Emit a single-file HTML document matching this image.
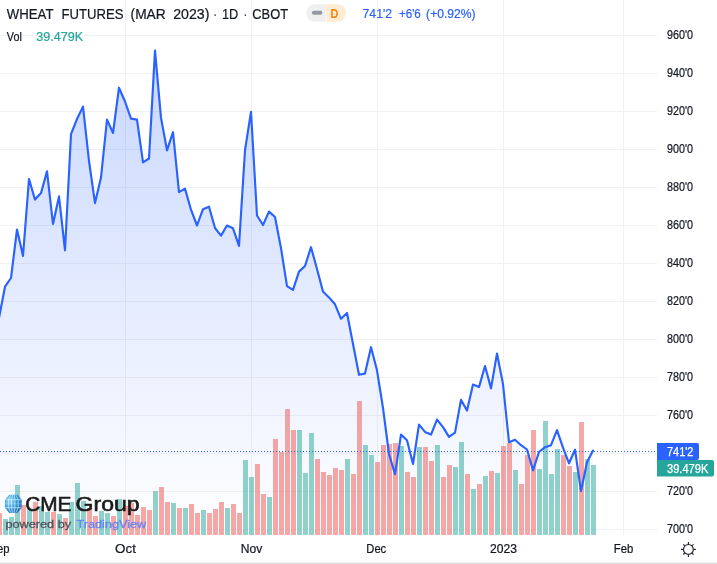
<!DOCTYPE html>
<html lang="en"><head><meta charset="utf-8"><title>WHEAT FUTURES (MAR 2023) - CBOT</title>
<style>html,body{margin:0;padding:0;background:#fff;}body{width:717px;height:564px;overflow:hidden;position:relative;font-family:"Liberation Sans",sans-serif;}svg{position:absolute;left:0;top:0;display:block}text{font-family:"Liberation Sans",sans-serif;}</style>
</head><body>
<svg width="717" height="564" viewBox="0 0 717 564">
<defs><linearGradient id="ag" x1="0" y1="0" x2="0" y2="535" gradientUnits="userSpaceOnUse"><stop offset="0" stop-color="#2962ff" stop-opacity="0.28"/><stop offset="1" stop-color="#2962ff" stop-opacity="0"/></linearGradient>
<radialGradient id="gl" cx="0.3" cy="0.35" r="0.8"><stop offset="0" stop-color="#7fd2f6"/><stop offset="0.5" stop-color="#2596df"/><stop offset="1" stop-color="#0a5bb2"/></radialGradient>
<clipPath id="pc"><rect x="0" y="0" width="657" height="535"/></clipPath></defs>
<rect width="717" height="564" fill="#ffffff"/>
<g><rect x="125" y="0" width="1" height="535" fill="#f0f1f3"/><rect x="251" y="0" width="1" height="535" fill="#f0f1f3"/><rect x="377" y="0" width="1" height="535" fill="#f0f1f3"/><rect x="503" y="0" width="1" height="535" fill="#f0f1f3"/><rect x="623" y="0" width="1" height="535" fill="#f0f1f3"/><rect x="0" y="35" width="657" height="1" fill="#f0f1f3"/><rect x="0" y="73" width="657" height="1" fill="#f0f1f3"/><rect x="0" y="111" width="657" height="1" fill="#f0f1f3"/><rect x="0" y="149" width="657" height="1" fill="#f0f1f3"/><rect x="0" y="187" width="657" height="1" fill="#f0f1f3"/><rect x="0" y="225" width="657" height="1" fill="#f0f1f3"/><rect x="0" y="263" width="657" height="1" fill="#f0f1f3"/><rect x="0" y="301" width="657" height="1" fill="#f0f1f3"/><rect x="0" y="339" width="657" height="1" fill="#f0f1f3"/><rect x="0" y="377" width="657" height="1" fill="#f0f1f3"/><rect x="0" y="415" width="657" height="1" fill="#f0f1f3"/><rect x="0" y="453" width="657" height="1" fill="#f0f1f3"/><rect x="0" y="491" width="657" height="1" fill="#f0f1f3"/><rect x="0" y="529" width="657" height="1" fill="#f0f1f3"/></g>
<g clip-path="url(#pc)">
<path d="M-1.0,535 L-1.0,318.0 L5.0,286.7 L11.0,278.0 L17.0,229.5 L23.0,255.9 L29.0,179.0 L35.0,199.6 L41.0,193.1 L47.0,171.3 L53.0,224.0 L59.0,196.4 L65.0,250.3 L71.0,134.2 L77.0,119.0 L83.0,106.6 L89.0,161.0 L95.0,203.1 L101.0,177.5 L107.0,119.6 L113.0,133.0 L119.0,87.7 L125.0,101.5 L131.0,118.6 L137.0,119.6 L143.0,162.3 L149.0,158.5 L155.0,50.6 L161.0,117.9 L167.0,150.3 L173.0,132.2 L179.0,192.1 L185.0,188.6 L191.0,209.7 L197.0,225.5 L203.0,209.2 L209.0,206.7 L215.0,228.0 L221.0,235.6 L227.0,225.5 L233.0,228.3 L239.0,245.9 L245.0,150.2 L251.0,111.8 L257.0,215.5 L263.0,225.0 L269.0,211.6 L275.0,217.0 L281.0,248.2 L287.0,286.1 L293.0,289.9 L299.0,271.6 L305.0,266.0 L311.0,247.2 L317.0,269.0 L323.0,291.6 L329.0,297.4 L335.0,304.3 L341.0,318.8 L347.0,313.0 L353.0,344.0 L359.0,374.8 L365.0,373.6 L371.0,347.2 L377.0,370.3 L383.0,408.0 L389.0,454.0 L395.0,474.1 L401.0,434.6 L407.0,440.2 L413.0,464.0 L419.0,424.6 L425.0,431.9 L431.0,434.6 L437.0,419.6 L443.0,427.1 L449.0,436.9 L455.0,432.6 L461.0,399.9 L467.0,410.5 L473.0,384.6 L479.0,387.1 L485.0,366.0 L491.0,388.4 L497.0,353.5 L503.0,384.1 L509.0,442.2 L515.0,439.7 L521.0,445.2 L527.0,449.5 L533.0,470.3 L539.0,452.0 L545.0,447.2 L551.0,445.2 L557.0,430.1 L563.0,447.7 L569.0,463.3 L575.0,449.7 L581.0,491.1 L587.0,462.3 L593.0,450.5 L593.0,535 Z" fill="url(#ag)"/>
<g opacity="0.5"><rect x="-3" y="513" width="5" height="22" fill="#ef5350"/><rect x="3" y="519" width="5" height="16" fill="#26a69a"/><rect x="9" y="517" width="5" height="18" fill="#26a69a"/><rect x="15" y="485" width="5" height="50" fill="#26a69a"/><rect x="21" y="505" width="5" height="30" fill="#ef5350"/><rect x="27" y="509" width="5" height="26" fill="#26a69a"/><rect x="33" y="502" width="5" height="33" fill="#ef5350"/><rect x="39" y="506" width="5" height="29" fill="#26a69a"/><rect x="45" y="512" width="5" height="23" fill="#26a69a"/><rect x="51" y="512" width="5" height="23" fill="#ef5350"/><rect x="57" y="514" width="5" height="21" fill="#26a69a"/><rect x="63" y="518" width="5" height="17" fill="#ef5350"/><rect x="69" y="502" width="5" height="33" fill="#26a69a"/><rect x="75" y="483" width="5" height="52" fill="#26a69a"/><rect x="81" y="501" width="5" height="34" fill="#26a69a"/><rect x="87" y="508" width="5" height="27" fill="#ef5350"/><rect x="93" y="516" width="5" height="19" fill="#ef5350"/><rect x="99" y="511" width="5" height="24" fill="#26a69a"/><rect x="105" y="513" width="5" height="22" fill="#26a69a"/><rect x="111" y="516" width="5" height="19" fill="#ef5350"/><rect x="117" y="499" width="5" height="36" fill="#26a69a"/><rect x="123" y="506" width="5" height="29" fill="#ef5350"/><rect x="129" y="503" width="5" height="32" fill="#ef5350"/><rect x="135" y="515" width="5" height="20" fill="#ef5350"/><rect x="141" y="507" width="5" height="28" fill="#ef5350"/><rect x="147" y="510" width="5" height="25" fill="#ef5350"/><rect x="153" y="491" width="5" height="44" fill="#26a69a"/><rect x="159" y="487" width="5" height="48" fill="#ef5350"/><rect x="165" y="502" width="5" height="33" fill="#ef5350"/><rect x="171" y="503" width="5" height="32" fill="#26a69a"/><rect x="177" y="508" width="5" height="27" fill="#ef5350"/><rect x="183" y="508" width="5" height="27" fill="#26a69a"/><rect x="189" y="504" width="5" height="31" fill="#ef5350"/><rect x="195" y="513" width="5" height="22" fill="#ef5350"/><rect x="201" y="510" width="5" height="25" fill="#26a69a"/><rect x="207" y="513" width="5" height="22" fill="#ef5350"/><rect x="213" y="509" width="5" height="26" fill="#ef5350"/><rect x="219" y="502" width="5" height="33" fill="#ef5350"/><rect x="225" y="508" width="5" height="27" fill="#26a69a"/><rect x="231" y="504" width="5" height="31" fill="#ef5350"/><rect x="237" y="513" width="5" height="22" fill="#ef5350"/><rect x="243" y="460" width="5" height="75" fill="#26a69a"/><rect x="249" y="477" width="5" height="58" fill="#26a69a"/><rect x="255" y="464" width="5" height="71" fill="#ef5350"/><rect x="261" y="494" width="5" height="41" fill="#ef5350"/><rect x="267" y="497" width="5" height="38" fill="#26a69a"/><rect x="273" y="439" width="5" height="96" fill="#ef5350"/><rect x="279" y="452" width="5" height="83" fill="#ef5350"/><rect x="285" y="409" width="5" height="126" fill="#ef5350"/><rect x="291" y="430" width="5" height="105" fill="#ef5350"/><rect x="297" y="430" width="5" height="105" fill="#26a69a"/><rect x="303" y="473" width="5" height="62" fill="#26a69a"/><rect x="309" y="433" width="5" height="102" fill="#26a69a"/><rect x="315" y="459" width="5" height="76" fill="#ef5350"/><rect x="321" y="472" width="5" height="63" fill="#ef5350"/><rect x="327" y="475" width="5" height="60" fill="#ef5350"/><rect x="333" y="468" width="5" height="67" fill="#ef5350"/><rect x="339" y="470" width="5" height="65" fill="#ef5350"/><rect x="345" y="459" width="5" height="76" fill="#26a69a"/><rect x="351" y="474" width="5" height="61" fill="#ef5350"/><rect x="357" y="401" width="5" height="134" fill="#ef5350"/><rect x="363" y="445" width="5" height="90" fill="#26a69a"/><rect x="369" y="455" width="5" height="80" fill="#26a69a"/><rect x="375" y="462" width="5" height="73" fill="#ef5350"/><rect x="381" y="445" width="5" height="90" fill="#ef5350"/><rect x="387" y="444" width="5" height="91" fill="#ef5350"/><rect x="393" y="443" width="5" height="92" fill="#ef5350"/><rect x="399" y="446" width="5" height="89" fill="#26a69a"/><rect x="405" y="472" width="5" height="63" fill="#ef5350"/><rect x="411" y="477" width="5" height="58" fill="#ef5350"/><rect x="417" y="447" width="5" height="88" fill="#26a69a"/><rect x="423" y="447" width="5" height="88" fill="#ef5350"/><rect x="429" y="461" width="5" height="74" fill="#ef5350"/><rect x="435" y="445" width="5" height="90" fill="#26a69a"/><rect x="441" y="477" width="5" height="58" fill="#ef5350"/><rect x="447" y="465" width="5" height="70" fill="#ef5350"/><rect x="453" y="467" width="5" height="68" fill="#26a69a"/><rect x="459" y="442" width="5" height="93" fill="#26a69a"/><rect x="465" y="474" width="5" height="61" fill="#ef5350"/><rect x="471" y="489" width="5" height="46" fill="#26a69a"/><rect x="477" y="484" width="5" height="51" fill="#ef5350"/><rect x="483" y="476" width="5" height="59" fill="#26a69a"/><rect x="489" y="471" width="5" height="64" fill="#ef5350"/><rect x="495" y="473" width="5" height="62" fill="#26a69a"/><rect x="501" y="446" width="5" height="89" fill="#ef5350"/><rect x="507" y="443" width="5" height="92" fill="#ef5350"/><rect x="513" y="470" width="5" height="65" fill="#26a69a"/><rect x="519" y="484" width="5" height="51" fill="#ef5350"/><rect x="525" y="455" width="5" height="80" fill="#ef5350"/><rect x="531" y="430" width="5" height="105" fill="#ef5350"/><rect x="537" y="469" width="5" height="66" fill="#26a69a"/><rect x="543" y="421" width="5" height="114" fill="#26a69a"/><rect x="549" y="474" width="5" height="61" fill="#26a69a"/><rect x="555" y="449" width="5" height="86" fill="#26a69a"/><rect x="561" y="455" width="5" height="80" fill="#ef5350"/><rect x="567" y="466" width="5" height="69" fill="#ef5350"/><rect x="573" y="472" width="5" height="63" fill="#26a69a"/><rect x="579" y="422" width="5" height="113" fill="#ef5350"/><rect x="585" y="459" width="5" height="76" fill="#26a69a"/><rect x="591" y="465" width="5" height="70" fill="#26a69a"/></g>
<polyline points="-1.0,318.0 5.0,286.7 11.0,278.0 17.0,229.5 23.0,255.9 29.0,179.0 35.0,199.6 41.0,193.1 47.0,171.3 53.0,224.0 59.0,196.4 65.0,250.3 71.0,134.2 77.0,119.0 83.0,106.6 89.0,161.0 95.0,203.1 101.0,177.5 107.0,119.6 113.0,133.0 119.0,87.7 125.0,101.5 131.0,118.6 137.0,119.6 143.0,162.3 149.0,158.5 155.0,50.6 161.0,117.9 167.0,150.3 173.0,132.2 179.0,192.1 185.0,188.6 191.0,209.7 197.0,225.5 203.0,209.2 209.0,206.7 215.0,228.0 221.0,235.6 227.0,225.5 233.0,228.3 239.0,245.9 245.0,150.2 251.0,111.8 257.0,215.5 263.0,225.0 269.0,211.6 275.0,217.0 281.0,248.2 287.0,286.1 293.0,289.9 299.0,271.6 305.0,266.0 311.0,247.2 317.0,269.0 323.0,291.6 329.0,297.4 335.0,304.3 341.0,318.8 347.0,313.0 353.0,344.0 359.0,374.8 365.0,373.6 371.0,347.2 377.0,370.3 383.0,408.0 389.0,454.0 395.0,474.1 401.0,434.6 407.0,440.2 413.0,464.0 419.0,424.6 425.0,431.9 431.0,434.6 437.0,419.6 443.0,427.1 449.0,436.9 455.0,432.6 461.0,399.9 467.0,410.5 473.0,384.6 479.0,387.1 485.0,366.0 491.0,388.4 497.0,353.5 503.0,384.1 509.0,442.2 515.0,439.7 521.0,445.2 527.0,449.5 533.0,470.3 539.0,452.0 545.0,447.2 551.0,445.2 557.0,430.1 563.0,447.7 569.0,463.3 575.0,449.7 581.0,491.1 587.0,462.3 593.0,450.5" fill="none" stroke="#2962ff" stroke-width="2.15" stroke-linejoin="round" stroke-linecap="round"/>
</g>
<line x1="0" y1="451.5" x2="657" y2="451.5" stroke="#2962ff" stroke-width="1" stroke-dasharray="1 2"/>
<text x="667" y="38.7" font-size="12" fill="#131722" stroke="#131722" stroke-width="0.22" textLength="26" lengthAdjust="spacingAndGlyphs">960'0</text>
<text x="667" y="76.7" font-size="12" fill="#131722" stroke="#131722" stroke-width="0.22" textLength="26" lengthAdjust="spacingAndGlyphs">940'0</text>
<text x="667" y="114.7" font-size="12" fill="#131722" stroke="#131722" stroke-width="0.22" textLength="26" lengthAdjust="spacingAndGlyphs">920'0</text>
<text x="667" y="152.7" font-size="12" fill="#131722" stroke="#131722" stroke-width="0.22" textLength="26" lengthAdjust="spacingAndGlyphs">900'0</text>
<text x="667" y="190.7" font-size="12" fill="#131722" stroke="#131722" stroke-width="0.22" textLength="26" lengthAdjust="spacingAndGlyphs">880'0</text>
<text x="667" y="228.7" font-size="12" fill="#131722" stroke="#131722" stroke-width="0.22" textLength="26" lengthAdjust="spacingAndGlyphs">860'0</text>
<text x="667" y="266.7" font-size="12" fill="#131722" stroke="#131722" stroke-width="0.22" textLength="26" lengthAdjust="spacingAndGlyphs">840'0</text>
<text x="667" y="304.7" font-size="12" fill="#131722" stroke="#131722" stroke-width="0.22" textLength="26" lengthAdjust="spacingAndGlyphs">820'0</text>
<text x="667" y="342.7" font-size="12" fill="#131722" stroke="#131722" stroke-width="0.22" textLength="26" lengthAdjust="spacingAndGlyphs">800'0</text>
<text x="667" y="380.7" font-size="12" fill="#131722" stroke="#131722" stroke-width="0.22" textLength="26" lengthAdjust="spacingAndGlyphs">780'0</text>
<text x="667" y="418.7" font-size="12" fill="#131722" stroke="#131722" stroke-width="0.22" textLength="26" lengthAdjust="spacingAndGlyphs">760'0</text>
<text x="667" y="456.7" font-size="12" fill="#131722" stroke="#131722" stroke-width="0.22" textLength="26" lengthAdjust="spacingAndGlyphs">740'0</text>
<text x="667" y="494.7" font-size="12" fill="#131722" stroke="#131722" stroke-width="0.22" textLength="26" lengthAdjust="spacingAndGlyphs">720'0</text>
<text x="667" y="532.7" font-size="12" fill="#131722" stroke="#131722" stroke-width="0.22" textLength="26" lengthAdjust="spacingAndGlyphs">700'0</text>
<path d="M657,443 h40 a2,2 0 0 1 2,2 v13 a2,2 0 0 1 -2,2 h-40 z" fill="#2962ff"/>
<text x="667" y="456.2" font-size="12" fill="#ffffff" stroke="#ffffff" stroke-width="0.25" textLength="26.4" lengthAdjust="spacingAndGlyphs">741'2</text>
<path d="M657,460 h55 a2,2 0 0 1 2,2 v12.5 a2,2 0 0 1 -2,2 h-55 z" fill="#26a69a"/>
<text x="667" y="472.6" font-size="12" fill="#ffffff" stroke="#ffffff" stroke-width="0.25" textLength="41.3" lengthAdjust="spacingAndGlyphs">39.479K</text>
<text x="-10.5" y="553.2" font-size="12" fill="#131722" stroke="#131722" stroke-width="0.22" textLength="20" lengthAdjust="spacingAndGlyphs">Sep</text>
<text x="115.1" y="553.2" font-size="12" fill="#131722" stroke="#131722" stroke-width="0.22" textLength="20.8" lengthAdjust="spacingAndGlyphs">Oct</text>
<text x="240.8" y="553.2" font-size="12" fill="#131722" stroke="#131722" stroke-width="0.22" textLength="21.5" lengthAdjust="spacingAndGlyphs">Nov</text>
<text x="366.3" y="553.2" font-size="12" fill="#131722" stroke="#131722" stroke-width="0.22" textLength="19.9" lengthAdjust="spacingAndGlyphs">Dec</text>
<text x="490.0" y="553.2" font-size="12" fill="#131722" stroke="#131722" stroke-width="0.22" textLength="27" lengthAdjust="spacingAndGlyphs">2023</text>
<text x="613.8" y="553.2" font-size="12" fill="#131722" stroke="#131722" stroke-width="0.22" textLength="19.5" lengthAdjust="spacingAndGlyphs">Feb</text>
<g transform="translate(688.4,549.4)" stroke="#131722" stroke-width="1.1" fill="none"><circle r="4.9"/><line x1="0" y1="-5.3" x2="0" y2="-7.5" transform="rotate(0)"/><line x1="0" y1="-5.3" x2="0" y2="-7.2" transform="rotate(45)"/><line x1="0" y1="-5.3" x2="0" y2="-7.5" transform="rotate(90)"/><line x1="0" y1="-5.3" x2="0" y2="-7.2" transform="rotate(135)"/><line x1="0" y1="-5.3" x2="0" y2="-7.5" transform="rotate(180)"/><line x1="0" y1="-5.3" x2="0" y2="-7.2" transform="rotate(225)"/><line x1="0" y1="-5.3" x2="0" y2="-7.5" transform="rotate(270)"/><line x1="0" y1="-5.3" x2="0" y2="-7.2" transform="rotate(315)"/></g>
<rect x="0" y="562.6" width="717" height="1.4" fill="#dcdcdc"/>
<text x="6.8" y="18.7" font-size="14.6" fill="#131722" stroke="#131722" stroke-width="0.22" textLength="46.7" lengthAdjust="spacingAndGlyphs">WHEAT</text>
<text x="61.5" y="18.7" font-size="14.6" fill="#131722" stroke="#131722" stroke-width="0.22" textLength="62" lengthAdjust="spacingAndGlyphs">FUTURES</text>
<text x="130.6" y="18.7" font-size="14.6" fill="#131722" stroke="#131722" stroke-width="0.22" textLength="35.1" lengthAdjust="spacingAndGlyphs">(MAR</text>
<text x="173.2" y="18.7" font-size="14.6" fill="#131722" stroke="#131722" stroke-width="0.22" textLength="36.2" lengthAdjust="spacingAndGlyphs">2023)</text>
<text x="213.6" y="18.7" font-size="14.6" fill="#131722" stroke="#131722" stroke-width="0.22" textLength="3.2" lengthAdjust="spacingAndGlyphs">·</text>
<text x="222" y="18.7" font-size="14.6" fill="#131722" stroke="#131722" stroke-width="0.22" textLength="16.3" lengthAdjust="spacingAndGlyphs">1D</text>
<text x="243.7" y="18.7" font-size="14.6" fill="#131722" stroke="#131722" stroke-width="0.22" textLength="3.2" lengthAdjust="spacingAndGlyphs">·</text>
<text x="252.3" y="18.7" font-size="14.6" fill="#131722" stroke="#131722" stroke-width="0.22" textLength="35.7" lengthAdjust="spacingAndGlyphs">CBOT</text>
<path d="M315,4.3 h10.7 v17.5 h-10.7 a8.75,8.75 0 0 1 0,-17.5 z" fill="#f0f0f3"/>
<path d="M325.7,4.3 h11.6 a8.75,8.75 0 0 1 0,17.5 h-10.5 z" fill="#ffecd2"/>
<rect x="311.9" y="10.7" width="10.5" height="4" rx="2" fill="#9598a1"/>
<text x="330.6" y="17.6" font-size="12.5" font-weight="bold" fill="#f68410" textLength="7.8" lengthAdjust="spacingAndGlyphs">D</text>
<text x="362.6" y="18.4" font-size="12" fill="#2962ff" stroke="#2962ff" stroke-width="0.2" textLength="29.4" lengthAdjust="spacingAndGlyphs">741'2</text>
<text x="399" y="18.4" font-size="12" fill="#2962ff" stroke="#2962ff" stroke-width="0.2" textLength="21.8" lengthAdjust="spacingAndGlyphs">+6'6</text>
<text x="426.1" y="18.4" font-size="12" fill="#2962ff" stroke="#2962ff" stroke-width="0.2" textLength="49.5" lengthAdjust="spacingAndGlyphs">(+0.92%)</text>
<text x="6.8" y="41.2" font-size="12" fill="#131722" stroke="#131722" stroke-width="0.22" textLength="15" lengthAdjust="spacingAndGlyphs">Vol</text>
<text x="36.3" y="41.2" font-size="12" fill="#26a69a" stroke="#26a69a" stroke-width="0.2" textLength="46.8" lengthAdjust="spacingAndGlyphs">39.479K</text>
<g transform="translate(13.35,503.8)" opacity="0.88"><polygon points="-4.1,-9.1 4.1,-9.1 8.45,-4.1 8.45,3.9 4.1,9.1 -4.1,9.1 -8.45,3.9 -8.45,-4.1" fill="url(#gl)"/><g stroke="#ffffff" stroke-width="0.7" fill="none" opacity="0.8"><polyline points="-2.3,-9.1 -5,-4.1 -5,3.9 -2.3,9.1"/><polyline points="-0.8,-9.1 -1.8,-4.1 -1.8,3.9 -0.8,9.1"/><polyline points="0.8,-9.1 1.6,-4.1 1.6,3.9 0.8,9.1"/><polyline points="2.4,-9.1 4.9,-4.1 4.9,3.9 2.4,9.1"/><line x1="-8.45" y1="-4.1" x2="8.45" y2="-4.1"/><line x1="-8.45" y1="0" x2="8.45" y2="0" opacity="0.5"/><line x1="-8.45" y1="3.9" x2="8.45" y2="3.9"/></g></g>
<text x="25.3" y="510.5" font-size="19.8" fill="#1a1a1a" stroke="#1a1a1a" stroke-width="0.6" textLength="46.2" lengthAdjust="spacingAndGlyphs">CME</text>
<text x="75.6" y="510.5" font-size="19.8" fill="#1a1a1a" stroke="#1a1a1a" stroke-width="0.6" textLength="64" lengthAdjust="spacingAndGlyphs">Group</text>
<text x="5.5" y="527.7" font-size="11.6" fill="#50535a" stroke="#50535a" stroke-width="0.3" textLength="65.6" lengthAdjust="spacingAndGlyphs">powered by</text>
<text x="76.6" y="527.7" font-size="11.6" fill="#6484f6" stroke="#6484f6" stroke-width="0.3" textLength="69.6" lengthAdjust="spacingAndGlyphs">TradingView</text>
</svg>
</body></html>
